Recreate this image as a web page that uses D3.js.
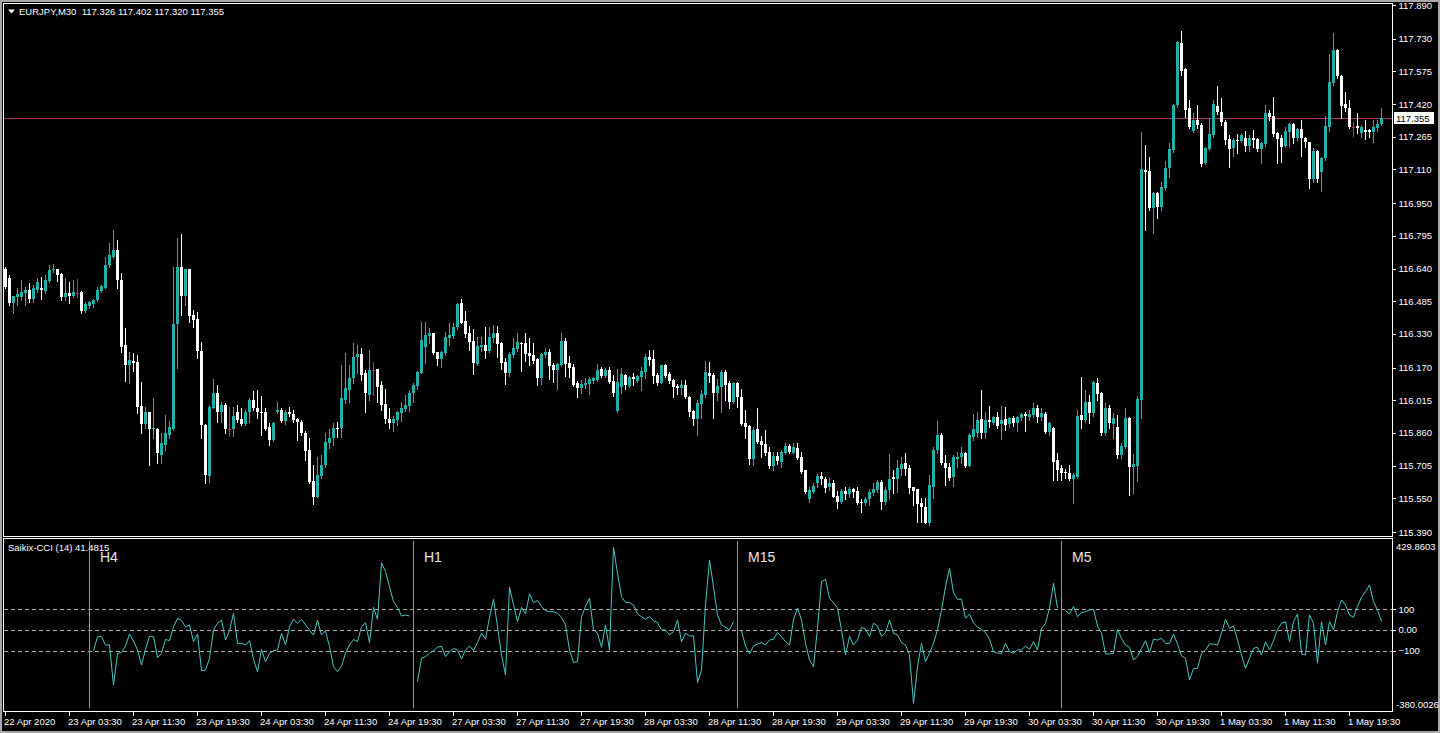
<!DOCTYPE html>
<html><head><meta charset="utf-8">
<script src="https://cdn.jsdelivr.net/npm/d3@7"></script>
<style>
html,body{margin:0;padding:0;background:#000;overflow:hidden;}
svg{display:block;}
text{font-family:"Liberation Sans",Arial,sans-serif;}
</style></head><body>
<svg id="c" width="1440" height="733"></svg>
<script>
const symbol = "EURJPY,M30";
// [open, high, low, close] per M30 bar, 22 Apr 2020 19:30 .. 1 May 2020 23:30
const ohlc = [
[116.640,116.648,116.549,116.554],[116.596,116.609,116.467,116.474],[116.474,116.511,116.427,116.509],[116.506,116.546,116.467,116.517],
[116.506,116.585,116.490,116.530],[116.522,116.554,116.467,116.538],[116.538,116.569,116.482,116.495],[116.495,116.561,116.482,116.546],
[116.538,116.593,116.530,116.577],[116.546,116.601,116.495,116.538],[116.533,116.609,116.522,116.585],[116.580,116.656,116.574,116.633],
[116.633,116.659,116.625,116.640],[116.637,116.640,116.580,116.609],[116.614,116.617,116.490,116.506],[116.506,116.593,116.490,116.522],
[116.522,116.577,116.474,116.511],[116.511,116.585,116.506,116.530],[116.525,116.590,116.506,116.525],[116.530,116.533,116.427,116.438],
[116.438,116.482,116.435,116.471],[116.463,116.486,116.451,116.479],[116.470,116.495,116.459,116.490],[116.490,116.554,116.486,116.538],
[116.533,116.561,116.530,116.557],[116.549,116.696,116.546,116.656],[116.656,116.759,116.648,116.704],[116.696,116.822,116.688,116.727],
[116.727,116.775,116.549,116.585],[116.585,116.617,116.245,116.269],[116.277,116.356,116.106,116.182],[116.182,116.245,116.095,116.206],
[116.201,116.237,116.153,116.190],[116.195,116.229,115.953,115.984],[115.988,116.103,115.858,115.901],[115.901,115.984,115.882,115.961],
[115.961,115.961,115.708,115.878],[115.878,116.024,115.834,115.885],[115.878,115.882,115.716,115.763],[115.755,115.858,115.716,115.810],
[115.803,115.945,115.779,115.858],[115.850,115.916,115.834,115.889],[115.878,116.648,115.874,116.375],[116.375,116.786,116.166,116.648],
[116.648,116.802,116.419,116.511],[116.511,116.640,116.467,116.637],[116.637,116.640,116.387,116.416],[116.419,116.443,116.364,116.395],
[116.400,116.432,116.214,116.248],[116.248,116.293,115.834,115.897],[115.897,115.901,115.621,115.660],[115.657,115.992,115.629,115.984],
[115.980,116.116,115.976,116.051],[116.048,116.087,115.913,115.961],[115.961,116.008,115.913,115.992],[115.992,116.000,115.858,115.878],
[115.878,115.984,115.847,115.878],[115.878,115.984,115.847,115.942],[115.961,115.992,115.913,115.921],[115.926,115.976,115.897,115.901],
[115.901,115.969,115.897,115.961],[115.957,116.027,115.913,116.016],[116.016,116.059,115.969,115.976],[115.980,116.063,115.929,115.957],
[115.961,116.037,115.850,115.953],[115.961,115.976,115.874,115.878],[115.889,115.905,115.803,115.826],[115.826,115.913,115.822,115.905],
[115.957,116.008,115.953,115.969],[115.969,115.976,115.910,115.916],[115.916,115.969,115.901,115.957],[115.961,115.984,115.942,115.948],
[115.950,115.969,115.913,115.921],[115.926,115.932,115.826,115.910],[115.913,115.921,115.850,115.858],[115.858,115.869,115.731,115.774],
[115.779,115.834,115.621,115.629],[115.632,115.708,115.521,115.557],[115.557,115.747,115.557,115.660],[115.657,115.755,115.644,115.708],
[115.708,115.858,115.700,115.818],[115.810,115.878,115.787,115.834],[115.834,115.905,115.803,115.882],[115.885,115.913,115.842,115.878],
[115.882,116.182,115.842,116.024],[116.016,116.237,116.000,116.071],[116.064,116.182,116.008,116.119],[116.119,116.285,116.095,116.222],
[116.222,116.277,116.143,116.234],[116.234,116.261,116.111,116.135],[116.143,116.159,115.961,116.048],[116.040,116.253,116.016,116.159],
[116.159,116.198,116.040,116.159],[116.163,116.163,116.008,116.080],[116.087,116.108,115.969,115.993],[115.997,116.067,115.909,115.925],
[115.925,115.977,115.882,115.909],[115.909,115.940,115.871,115.925],[115.921,115.966,115.898,115.961],[115.956,116.008,115.918,115.980],
[115.972,116.040,115.966,115.993],[115.988,116.064,115.966,116.051],[116.048,116.098,116.008,116.087],[116.083,116.155,116.067,116.151],
[116.146,116.388,116.143,116.301],[116.269,116.388,116.190,116.325],[116.321,116.356,116.285,116.336],[116.336,116.336,116.234,116.241],
[116.244,116.246,116.182,116.211],[116.211,116.250,116.171,116.242],[116.238,116.340,116.230,116.317],[116.312,116.380,116.277,116.325],
[116.320,116.380,116.309,116.364],[116.361,116.478,116.351,116.472],[116.475,116.494,116.380,116.383],[116.391,116.440,116.317,116.329],
[116.336,116.367,116.253,116.293],[116.296,116.351,116.140,116.190],[116.187,116.317,116.182,116.272],[116.269,116.317,116.250,116.277],
[116.277,116.361,116.214,116.250],[116.250,116.364,116.246,116.317],[116.312,116.372,116.293,116.336],[116.336,116.367,116.222,116.280],
[116.285,116.293,116.162,116.193],[116.198,116.214,116.092,116.143],[116.146,116.246,116.130,116.234],[116.230,116.309,116.222,116.261],
[116.257,116.332,116.250,116.293],[116.288,116.293,116.155,116.282],[116.285,116.336,116.203,116.234],[116.241,116.309,116.182,116.225],
[116.230,116.285,116.190,116.203],[116.209,116.214,116.087,116.119],[116.119,116.241,116.092,116.234],[116.230,116.261,116.222,116.246],
[116.246,116.257,116.114,116.178],[116.182,116.193,116.103,116.159],[116.159,116.190,116.067,116.187],[116.182,116.332,116.178,116.296],
[116.296,116.309,116.130,116.187],[116.193,116.225,116.124,116.166],[116.171,116.187,116.083,116.087],[116.095,116.108,116.029,116.072],
[116.072,116.111,116.048,116.092],[116.087,116.119,116.072,116.098],[116.092,116.124,116.045,116.114],[116.108,116.124,116.098,116.119],
[116.111,116.187,116.108,116.159],[116.162,116.174,116.124,116.130],[116.130,116.166,116.124,116.159],[116.159,116.171,116.098,116.103],
[116.108,116.135,116.035,116.051],[115.966,116.162,115.961,116.103],[116.080,116.166,116.051,116.140],[116.135,116.140,116.067,116.087],
[116.083,116.130,116.076,116.124],[116.124,116.143,116.087,116.114],[116.108,116.135,116.103,116.130],[116.124,116.171,116.064,116.155],
[116.151,116.234,116.119,116.222],[116.222,116.253,116.182,116.206],[116.211,116.253,116.095,116.130],[116.135,116.143,116.087,116.098],
[116.098,116.182,116.095,116.182],[116.182,116.187,116.124,116.130],[116.140,116.151,116.098,116.108],[116.111,116.114,116.029,116.080],
[116.083,116.092,116.045,116.072],[116.072,116.111,116.045,116.087],[116.087,116.111,116.024,116.029],[116.032,116.035,115.940,115.961],
[115.966,115.969,115.898,115.925],[115.925,116.016,115.850,116.004],[115.997,116.064,115.929,116.045],[116.040,116.203,116.032,116.151],
[116.146,116.198,116.103,116.130],[116.135,116.143,115.929,116.051],[116.051,116.114,116.016,116.083],[116.080,116.159,115.961,116.151],
[116.151,116.159,116.016,116.088],[116.099,116.108,115.977,116.008],[116.008,116.103,116.001,116.095],[116.099,116.103,115.985,116.029],
[116.032,116.067,115.898,115.903],[115.909,115.969,115.835,115.890],[115.893,115.898,115.713,115.735],[115.735,115.887,115.708,115.874],
[115.877,115.977,115.811,115.819],[115.824,115.846,115.748,115.803],[115.808,115.874,115.756,115.767],[115.771,115.795,115.692,115.703],
[115.703,115.771,115.684,115.751],[115.751,115.771,115.713,115.729],[115.724,115.779,115.697,115.771],[115.763,115.814,115.760,115.798],
[115.798,115.808,115.763,115.771],[115.767,115.814,115.760,115.792],[115.787,115.814,115.735,115.740],[115.748,115.771,115.669,115.676],
[115.684,115.684,115.577,115.582],[115.545,115.605,115.534,115.590],[115.582,115.624,115.574,115.609],[115.621,115.665,115.605,115.656],
[115.656,115.676,115.618,115.640],[115.640,115.650,115.582,115.597],[115.602,115.645,115.590,115.624],[115.621,115.637,115.555,115.558],
[115.561,115.586,115.503,115.534],[115.534,115.593,115.526,115.586],[115.586,115.605,115.545,115.571],[115.571,115.605,115.558,115.593],
[115.593,115.597,115.558,115.582],[115.586,115.605,115.523,115.526],[115.534,115.545,115.487,115.526],[115.526,115.558,115.518,115.545],
[115.545,115.593,115.518,115.582],[115.577,115.624,115.566,115.593],[115.590,115.637,115.582,115.629],[115.629,115.637,115.498,115.534],
[115.534,115.605,115.523,115.590],[115.590,115.760,115.550,115.640],[115.650,115.684,115.574,115.640],[115.640,115.732,115.582,115.692],
[115.688,115.744,115.661,115.713],[115.716,115.763,115.661,115.688],[115.692,115.708,115.574,115.597],[115.605,115.605,115.518,115.586],
[115.593,115.593,115.439,115.523],[115.526,115.550,115.439,115.507],[115.510,115.550,115.431,115.431],[115.431,115.661,115.424,115.613],
[115.605,115.795,115.550,115.779],[115.779,115.918,115.763,115.850],[115.850,115.861,115.713,115.716],[115.719,115.756,115.613,115.692],
[115.697,115.719,115.637,115.645],[115.650,115.756,115.609,115.744],[115.738,115.771,115.700,115.748],[115.744,115.792,115.716,115.767],
[115.767,115.771,115.697,115.703],[115.703,115.858,115.703,115.850],[115.843,115.950,115.827,115.877],[115.861,115.961,115.843,115.922],
[115.925,116.064,115.835,115.858],[115.858,115.961,115.835,115.922],[115.922,115.988,115.887,115.914],[115.909,115.941,115.903,115.934],
[115.934,115.961,115.882,115.893],[115.903,115.988,115.830,115.922],[115.925,115.982,115.874,115.898],[115.903,115.937,115.887,115.929],
[115.929,115.941,115.893,115.909],[115.906,115.941,115.871,115.937],[115.929,115.956,115.922,115.950],[115.950,115.961,115.871,115.941],
[115.937,115.969,115.922,115.950],[115.945,116.004,115.934,115.977],[115.977,115.993,115.914,115.937],[115.934,115.977,115.922,115.956],
[115.950,115.961,115.861,115.866],[115.866,115.914,115.850,115.906],[115.882,115.890,115.637,115.724],[115.732,115.763,115.637,115.684],
[115.692,115.708,115.637,115.669],[115.676,115.689,115.645,115.669],[115.669,115.708,115.637,115.642],[115.642,115.669,115.526,115.661],
[115.653,115.969,115.645,115.942],[115.945,116.127,115.882,115.922],[115.922,116.064,115.914,116.008],[116.008,116.040,115.906,115.953],
[115.953,116.106,115.942,116.100],[116.095,116.119,116.016,116.043],[116.048,116.056,115.850,115.858],[115.858,116.000,115.850,115.980],
[115.980,115.993,115.882,115.906],[115.901,115.953,115.835,115.929],[115.890,115.945,115.740,115.756],[115.756,115.811,115.743,115.800],
[115.795,115.977,115.787,115.929],[115.929,115.937,115.566,115.700],[115.700,115.759,115.574,115.711],[115.705,116.037,115.632,116.021],
[116.016,117.289,115.929,117.112],[117.107,117.226,116.823,117.099],[117.103,117.171,116.918,116.925],[116.925,117.005,116.807,116.997],
[116.997,117.005,116.878,116.933],[116.933,117.052,116.918,117.028],[117.023,117.150,117.012,117.118],[117.115,117.234,117.076,117.207],
[117.202,117.419,117.194,117.416],[117.416,117.719,117.408,117.713],[117.708,117.767,117.558,117.577],[117.586,117.593,117.360,117.392],
[117.400,117.439,117.305,117.313],[117.292,117.376,117.289,117.344],[117.344,117.416,117.305,117.321],[117.321,117.329,117.128,117.134],
[117.139,117.218,117.134,117.210],[117.207,117.352,117.202,117.276],[117.273,117.439,117.265,117.419],[117.412,117.507,117.371,117.381],
[117.381,117.447,117.321,117.333],[117.337,117.344,117.229,117.250],[117.254,117.273,117.123,117.207],[117.210,117.257,117.175,117.250],
[117.250,117.276,117.186,117.245],[117.245,117.281,117.242,117.273],[117.261,117.292,117.197,117.223],[117.223,117.273,117.197,117.261],
[117.257,117.297,117.218,117.250],[117.254,117.257,117.197,117.207],[117.207,117.242,117.139,117.234],[117.229,117.416,117.223,117.376],
[117.376,117.392,117.344,117.360],[117.365,117.455,117.270,117.276],[117.281,117.286,117.139,117.254],[117.257,117.273,117.144,117.218],
[117.223,117.313,117.218,117.292],[117.289,117.329,117.223,117.324],[117.324,117.329,117.234,117.257],[117.257,117.305,117.250,117.302],
[117.302,117.344,117.175,117.257],[117.257,117.265,117.218,117.239],[117.239,117.242,117.023,117.065],[117.065,117.213,117.052,117.197],
[117.197,117.202,117.052,117.065],[117.096,117.171,117.008,117.166],[117.163,117.365,117.155,117.318],[117.313,117.656,117.292,117.526],
[117.518,117.755,117.510,117.676],[117.676,117.681,117.545,117.555],[117.555,117.558,117.352,117.412],[117.419,117.479,117.387,117.400],
[117.403,117.439,117.305,117.313],[117.313,117.337,117.270,117.313],[117.318,117.376,117.281,117.308],[117.281,117.321,117.265,117.313],
[117.297,117.344,117.254,117.286],[117.297,117.302,117.265,117.289],[117.289,117.344,117.242,117.313],[117.305,117.344,117.292,117.324],
[117.326,117.402,117.320,117.355]
];
const priceTicks = [117.890,117.730,117.575,117.420,117.265,117.110,116.950,116.795,116.640,116.485,116.330,116.170,116.015,115.860,115.705,115.550,115.390];
const timeLabels = ["22 Apr 2020","23 Apr 03:30","23 Apr 11:30","23 Apr 19:30","24 Apr 03:30","24 Apr 11:30","24 Apr 19:30","27 Apr 03:30","27 Apr 11:30","27 Apr 19:30","28 Apr 03:30","28 Apr 11:30","28 Apr 19:30","29 Apr 03:30","29 Apr 11:30","29 Apr 19:30","30 Apr 03:30","30 Apr 11:30","30 Apr 19:30","1 May 03:30","1 May 11:30","1 May 19:30"];
const cciName = "Saikix-CCI (14)";
const cciPanels = ["H4","H1","M15","M5"];
const cciH4 = [-100,-33,-33,-73,-73,-267,-113,-110,-78,-20,-54,-97,-170,-94,-30,-33,-134,-113,-46,-52,15,56,45,15,24,-57,-20,-197,-194,-138,-1,32,48,-49,-4,80,-65,-65,-73,-52,-142,-202,-94,-154,-113,-101,-97,-17,-73,15,51,32,51,24,-1,-25,48,-25,-4,-81,-178,-202,-175,-113,-73,-46,-57,15,35,-62,109,51,325,282,209,136,109,67,72,67];
const cciH1 = [-250,-137,-129,-113,-100,-84,-78,-129,-105,-89,-97,-140,-97,-78,-100,-61,-16,-45,61,148,16,-121,-218,206,121,40,109,77,174,132,142,113,93,88,88,80,61,24,-97,-158,-153,64,113,153,0,-16,-84,24,-97,400,274,161,132,132,121,77,64,51,64,45,35,0,0,-24,-8,48,-57,-16,-29,-29,-255,-194,121,338,209,72,24,13,0,40];
const cciM15 = [-3,-78,-116,-78,-68,-61,-73,-49,-45,-13,-32,-57,-73,48,105,48,-65,-145,-178,8,233,245,153,132,105,0,-121,-32,-73,-49,13,3,-32,32,19,-32,-13,48,-16,-24,-61,-73,-121,-355,-178,-65,-153,-113,-65,0,96,209,298,180,148,148,56,77,35,13,3,-13,-45,-105,-113,-113,-65,-105,-113,-97,-97,-78,-94,-57,-97,8,32,105,225,105];
const cciM5 = [93,77,113,64,84,88,96,100,19,-16,-116,-116,-113,3,-41,-73,-84,-145,-129,-89,-52,-110,-45,-49,-41,-65,-65,-20,-68,-126,-137,-242,-186,-186,-113,-97,-68,-68,-73,-16,51,8,19,-49,-121,-186,-137,-89,-84,-121,-57,-97,-52,3,32,40,-57,40,77,-116,-121,72,32,-161,40,-73,40,0,88,145,121,72,61,113,158,185,217,137,96,41.4815];
const cciRange = [-380.0026, 429.8603];
const cciLevels = [100, 0, -100];

const BULL = "#20b2aa", BEAR = "#ffffff", DOJI = "#b03070", CCI = "#48c8c2", FRAME = "#ffffff";
const svg = d3.select("#c");
const W = 1440, H = 733;
svg.append("rect").attr("width", W).attr("height", H).attr("fill", "#000");

const x = d3.scaleLinear().domain([0, ohlc.length - 1]).range([5, 5 + 4 * (ohlc.length - 1)]);
const y = d3.scaleLinear().domain([115.390, 117.890]).range([532, 5]);
const yc = d3.scaleLinear().domain(cciRange).range([708.5, 541]);

// bid line
const last = ohlc[ohlc.length - 1];
const bidY = Math.round(y(last[3])) + 0.5;
svg.append("line").attr("x1", 4).attr("x2", 1392).attr("y1", bidY).attr("y2", bidY)
  .attr("stroke", DOJI).attr("stroke-width", 1).attr("shape-rendering", "crispEdges");

// candles
const colorOf = d => d[0] === d[3] ? DOJI : (d[3] > d[0] ? BULL : BEAR);
const cg = svg.append("g").attr("shape-rendering", "crispEdges");
cg.selectAll("line.w").data(ohlc).join("line").attr("class", "w")
  .attr("x1", (d, i) => Math.round(x(i)) + 0.5).attr("x2", (d, i) => Math.round(x(i)) + 0.5)
  .attr("y1", d => Math.round(y(d[1]))).attr("y2", d => Math.round(y(d[2])) + 1)
  .attr("stroke", colorOf);
cg.selectAll("rect.b").data(ohlc).join("rect").attr("class", "b")
  .attr("x", (d, i) => Math.round(x(i)) - 1).attr("width", 3)
  .attr("y", d => Math.round(y(Math.max(d[0], d[3]))))
  .attr("height", d => Math.max(1, Math.round(y(Math.min(d[0], d[3]))) - Math.round(y(Math.max(d[0], d[3])))))
  .attr("fill", colorOf);

// frames
const fr = svg.append("g").attr("fill", "none").attr("stroke", FRAME).attr("shape-rendering", "crispEdges");
fr.append("rect").attr("x", 3.5).attr("y", 3.5).attr("width", 1389).attr("height", 533);
fr.append("rect").attr("x", 3.5).attr("y", 538.5).attr("width", 1389).attr("height", 173);
svg.append("rect").attr("x", 1).attr("y", 1).attr("width", W - 2).attr("height", H - 2)
  .attr("fill", "none").attr("stroke", "#a8a8a8").attr("stroke-width", 2);

// price axis
const ax = svg.append("g").attr("transform", "translate(1392.5,0)")
  .call(d3.axisRight(y).tickValues(priceTicks).tickSize(3).tickSizeOuter(0).tickPadding(3).tickFormat(d3.format(".3f")));
ax.select(".domain").remove();
ax.selectAll("line").attr("stroke", FRAME).attr("shape-rendering", "crispEdges");
ax.selectAll("text").attr("fill", "#fff").attr("font-size", "9.5px").attr("font-family", "Liberation Sans, Arial, sans-serif");

// bid label
svg.append("rect").attr("x", 1394).attr("y", bidY - 6.5).attr("width", 40).attr("height", 12).attr("fill", "#fff");
svg.append("text").attr("x", 1396).attr("y", bidY + 3.5).attr("fill", "#000").attr("font-size", "9.5px").text(d3.format(".3f")(last[3]));

// header
svg.append("path").attr("d", "M8,9.5 L15,9.5 L11.5,13.5 Z").attr("fill", "#fff");
svg.append("text").attr("x", 19).attr("y", 15).attr("fill", "#fff").attr("font-size", "9.5px").attr("xml:space", "preserve")
  .text(symbol + "  " + last.map(d3.format(".3f")).join(" "));

// CCI levels
const lv = svg.append("g");
lv.selectAll("line").data(cciLevels).join("line")
  .attr("x1", 4).attr("x2", 1392).attr("y1", d => Math.round(yc(d)) + 0.5).attr("y2", d => Math.round(yc(d)) + 0.5)
  .attr("stroke", "#a8a8a8").attr("stroke-dasharray", "4,3").attr("shape-rendering", "crispEdges");

// CCI panels
const series = [cciH4, cciH1, cciM15, cciM5];
const line = d3.line().x(d => x(d[0]) + 0.5).y(d => yc(d[1]));
series.forEach((arr, k) => {
  const start = 22 + 81 * k;
  const dx = Math.round(x(start - 1)) + 0.5;
  svg.append("line").attr("x1", dx).attr("x2", dx).attr("y1", 541).attr("y2", 708)
    .attr("stroke", "#9a9a9a").attr("shape-rendering", "crispEdges");
  svg.append("path").datum(arr.map((v, j) => [start + j, v])).attr("d", line)
    .attr("fill", "none").attr("stroke", CCI).attr("stroke-width", 1);
  svg.append("text").attr("x", dx + 10.5).attr("y", 561.5).attr("fill", "#e6e6e6").attr("font-size", "14px").text(cciPanels[k]);
});
svg.append("text").attr("x", 8).attr("y", 551).attr("fill", "#fff").attr("font-size", "9.5px")
  .text(cciName + " " + cciM5[cciM5.length - 1].toFixed(4));

// CCI axis
const cax = svg.append("g").attr("transform", "translate(1392.5,0)")
  .call(d3.axisRight(yc).tickValues(cciLevels).tickSize(3).tickSizeOuter(0).tickPadding(3).tickFormat(d => d === 0 ? "0.00" : d3.format("d")(d)));
cax.select(".domain").remove();
cax.selectAll("line").attr("stroke", FRAME).attr("shape-rendering", "crispEdges");
cax.selectAll("text").attr("fill", "#fff").attr("font-size", "9.5px").attr("font-family", "Liberation Sans, Arial, sans-serif");
svg.append("text").attr("x", 1396).attr("y", yc(cciRange[1]) + 8.5).attr("fill", "#fff").attr("font-size", "9.5px").text(cciRange[1].toFixed(4));
svg.append("text").attr("x", 1396).attr("y", yc(cciRange[0]) - 1).attr("fill", "#fff").attr("font-size", "9.5px").text(cciRange[0].toFixed(4));

// time axis
const tax = svg.append("g").attr("transform", "translate(0,711.5)")
  .call(d3.axisBottom(x).tickValues(timeLabels.map((_, i) => i * 16)).tickSize(4).tickSizeOuter(0).tickPadding(3).tickFormat((d, i) => timeLabels[i]));
tax.select(".domain").remove();
tax.selectAll("line").attr("stroke", FRAME).attr("shape-rendering", "crispEdges");
tax.selectAll("text").attr("fill", "#fff").attr("font-size", "9.5px").attr("text-anchor", "start").attr("x", -1.5)
  .attr("font-family", "Liberation Sans, Arial, sans-serif");
</script>
</body></html>
